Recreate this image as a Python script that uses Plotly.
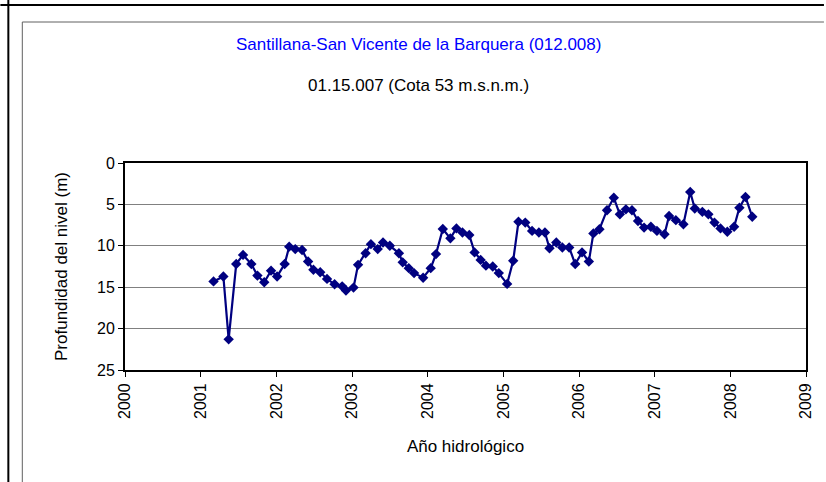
import plotly.graph_objects as go

# Hydrological year (decimal) and depth of water level (m)
anio = [2001.17, 2001.30, 2001.37, 2001.47, 2001.56, 2001.67, 2001.75, 2001.84, 2001.93, 2002.01,
        2002.11, 2002.17, 2002.25, 2002.34, 2002.42, 2002.49, 2002.58, 2002.67, 2002.77, 2002.87,
        2002.92, 2003.02, 2003.08, 2003.18, 2003.25, 2003.34, 2003.41, 2003.50, 2003.62, 2003.67,
        2003.75, 2003.82, 2003.94, 2004.04, 2004.11, 2004.20, 2004.30, 2004.38, 2004.46, 2004.55,
        2004.62, 2004.70, 2004.77, 2004.86, 2004.94, 2005.05, 2005.13, 2005.20, 2005.29, 2005.38,
        2005.47, 2005.55, 2005.61, 2005.70, 2005.78, 2005.87, 2005.95, 2006.04, 2006.13, 2006.19,
        2006.27, 2006.37, 2006.46, 2006.54, 2006.62, 2006.70, 2006.78, 2006.86, 2006.95, 2007.03,
        2007.13, 2007.19, 2007.28, 2007.38, 2007.47, 2007.53, 2007.63, 2007.71, 2007.79, 2007.87,
        2007.96, 2008.05, 2008.12, 2008.20, 2008.29]
profundidad = [14.3, 13.7, 21.3, 12.2, 11.1, 12.2, 13.6, 14.4, 13.0, 13.7,
               12.2, 10.1, 10.4, 10.5, 11.9, 12.9, 13.2, 14.0, 14.65, 14.9,
               15.4, 15.05, 12.3, 10.9, 9.8, 10.4, 9.6, 10.0, 10.9, 12.0,
               12.7, 13.3, 13.85, 12.7, 11.0, 7.97, 9.1, 7.9, 8.4, 8.7,
               10.8, 11.7, 12.4, 12.5, 13.3, 14.6, 11.8, 7.1, 7.2, 8.2,
               8.4, 8.4, 10.3, 9.6, 10.2, 10.2, 12.2, 10.8, 11.9, 8.5,
               8.0, 5.7, 4.2, 6.2, 5.6, 5.7, 7.0, 7.8, 7.7, 8.2,
               8.6, 6.4, 6.9, 7.4, 3.5, 5.5, 5.9, 6.2, 7.2, 7.9,
               8.3, 7.7, 5.4, 4.1, 6.5]

x_ticks = [2000, 2001, 2002, 2003, 2004, 2005, 2006, 2007, 2008, 2009]
y_ticks = [0, 5, 10, 15, 20, 25]

W, H = 826, 482
L, R, T, B = 125, 18, 163, 112
pw, ph = W - L - R, H - T - B

def px(x):
    return (x - L) / pw

def py(y):
    return (H - B - y) / ph

font = "Liberation Sans, Arial, sans-serif"

fig = go.Figure()
fig.add_trace(go.Scatter(
    x=anio, y=profundidad, mode="lines+markers",
    line=dict(color="#000080", width=2.2),
    marker=dict(symbol="diamond", size=8, color="#000080"),
    showlegend=False, hoverinfo="x+y"))

fig.update_layout(
    width=W, height=H,
    margin=dict(l=L, r=R, t=T, b=B, pad=0),
    paper_bgcolor="white", plot_bgcolor="white",
    font=dict(family=font, size=16, color="black"),
    xaxis=dict(range=[2000, 2009], tickvals=x_ticks, ticktext=[str(v) for v in x_ticks],
               tickangle=-90, showgrid=False, zeroline=False,
               showline=True, linecolor="black", linewidth=2, mirror=True,
               ticks="outside", ticklen=5, tickcolor="black",
               tickfont=dict(size=16),
               title=dict(text="Año hidrológico", font=dict(size=17), standoff=22)),
    yaxis=dict(range=[25, 0], tickvals=y_ticks, showgrid=True, gridcolor="#808080", gridwidth=1,
               zeroline=False, showline=True, linecolor="black", linewidth=2, mirror=True,
               ticks="outside", ticklen=5, tickcolor="black",
               tickfont=dict(size=16),
               title=dict(text="Profundidad del nivel (m)", font=dict(size=17), standoff=25)),
    shapes=[
        dict(type="line", xref="paper", yref="paper", x0=px(0), x1=px(W), y0=py(5), y1=py(5),
             line=dict(color="black", width=2)),
        dict(type="line", xref="paper", yref="paper", x0=px(8), x1=px(8), y0=py(0), y1=py(H),
             line=dict(color="black", width=2)),
        dict(type="line", xref="paper", yref="paper", x0=px(22), x1=px(W), y0=py(22), y1=py(22),
             line=dict(color="#606060", width=1)),
        dict(type="line", xref="paper", yref="paper", x0=px(22), x1=px(22), y0=py(22), y1=py(H),
             line=dict(color="#606060", width=1)),
    ],
    annotations=[
        dict(text="Santillana-San Vicente de la Barquera (012.008)", xref="paper", yref="paper",
             x=px(419), y=py(45), showarrow=False, xanchor="center", yanchor="middle",
             font=dict(size=17, color="#0000FF")),
        dict(text="01.15.007 (Cota 53 m.s.n.m.)", xref="paper", yref="paper",
             x=px(419), y=py(85), showarrow=False, xanchor="center", yanchor="middle",
             font=dict(size=17, color="black")),
    ],
)

fig.write_html("out.html", config={"displayModeBar": False},
               post_script="document.body.style.margin='0';document.body.style.overflow='hidden';")
